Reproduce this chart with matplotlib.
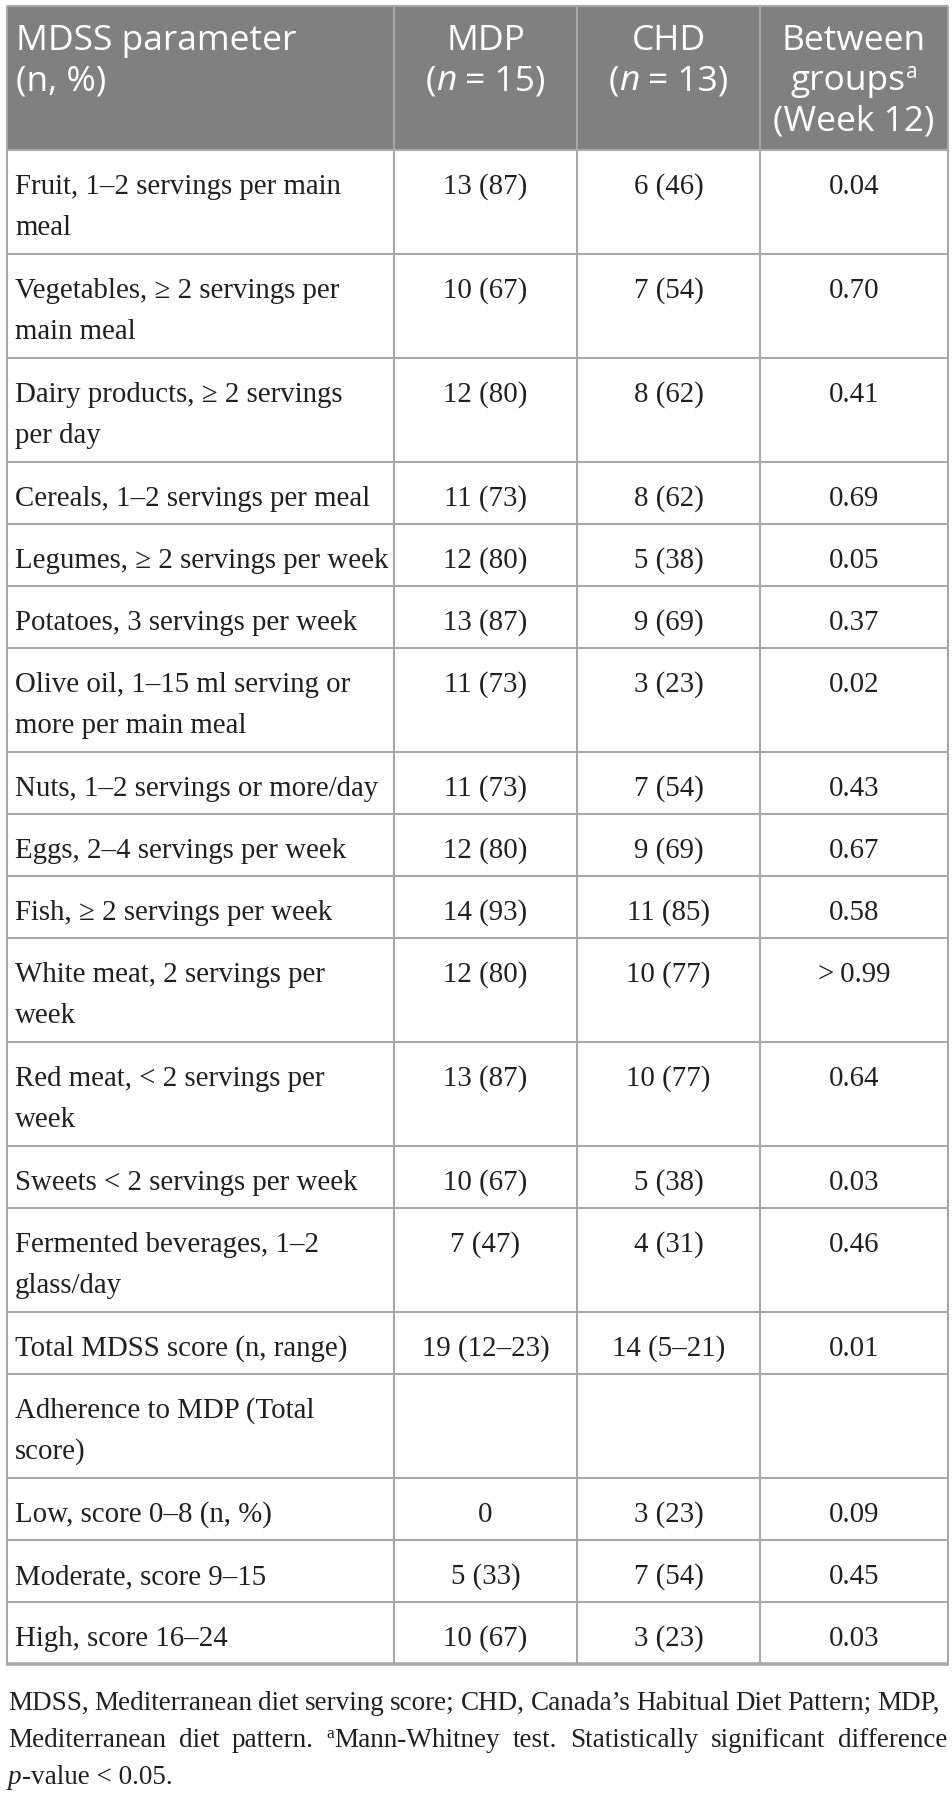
import matplotlib
matplotlib.use("Agg")
import matplotlib.pyplot as plt
from matplotlib.patches import Rectangle

# 표 데이터
params = [
    "Fruit, 1–2 servings per main\nmeal",
    "Vegetables, ≥ 2 servings per\nmain meal",
    "Dairy products, ≥ 2 servings\nper day",
    "Cereals, 1–2 servings per meal",
    "Legumes, ≥ 2 servings per week",
    "Potatoes, 3 servings per week",
    "Olive oil, 1–15 ml serving or\nmore per main meal",
    "Nuts, 1–2 servings or more/day",
    "Eggs, 2–4 servings per week",
    "Fish, ≥ 2 servings per week",
    "White meat, 2 servings per\nweek",
    "Red meat, < 2 servings per\nweek",
    "Sweets < 2 servings per week",
    "Fermented beverages, 1–2\nglass/day",
    "Total MDSS score (n, range)",
    "Adherence to MDP (Total\nscore)",
    "Low, score 0–8 (n, %)",
    "Moderate, score 9–15",
    "High, score 16–24",
]
mdp = ["13 (87)", "10 (67)", "12 (80)", "11 (73)", "12 (80)", "13 (87)", "11 (73)",
       "11 (73)", "12 (80)", "14 (93)", "12 (80)", "13 (87)", "10 (67)", "7 (47)",
       "19 (12–23)", "", "0", "5 (33)", "10 (67)"]
chd = ["6 (46)", "7 (54)", "8 (62)", "8 (62)", "5 (38)", "9 (69)", "3 (23)",
       "7 (54)", "9 (69)", "11 (85)", "10 (77)", "10 (77)", "5 (38)", "4 (31)",
       "14 (5–21)", "", "3 (23)", "7 (54)", "3 (23)"]
pvals = ["0.04", "0.70", "0.41", "0.69", "0.05", "0.37", "0.02", "0.43", "0.67",
         "0.58", ">\u20090.99", "0.64", "0.03", "0.46", "0.01", "", "0.09", "0.45", "0.03"]

note_line1 = "MDSS, Mediterranean diet serving score; CHD, Canada’s Habitual Diet Pattern; MDP,"
note_line2 = "Mediterranean diet pattern. aMann-Whitney test. Statistically significant difference"

# 기본 설정
W, H = 953, 1797
fig = plt.figure(figsize=(W / 100, H / 100), dpi=100)
ax = fig.add_axes([0, 0, 1, 1])
ax.set_xlim(0, W)
ax.set_ylim(H, 0)
ax.axis("off")
renderer = fig.canvas.get_renderer()

HEAD = dict(family=["Open Sans", "DejaVu Sans"], size=25.5, color="white")
HEAD_IT = dict(HEAD, style="italic")
HEAD_SUP = dict(HEAD, size=15)
BODY = dict(family=["Liberation Serif", "DejaVu Serif"], size=20.8, color="#231f20")
NOTE = dict(family=["Liberation Serif", "DejaVu Serif"], size=19.5, color="#231f20")
NOTE_IT = dict(NOTE, style="italic")
NOTE_SUP = dict(NOTE, size=12.5)

header_color = "#808080"
line_color = "#a8a8a8"

x_cols = [7, 394, 577, 760, 948]
top = 6
header_h = 144
line_h = 41
pad = 44


def text_width(s, kw):
    t = ax.text(0, 0, s, **kw)
    w = t.get_window_extent(renderer).width
    t.remove()
    return w


def space_width(kw):
    return text_width("n n", kw) - text_width("nn", kw)


def run_width(runs):
    return sum(space_width(kw) if s == " " else text_width(s, kw) for s, kw, rise in runs)


def draw_runs(x, y, runs, ha="left"):
    total = run_width(runs)
    if ha == "center":
        x -= total / 2
    for s, kw, rise in runs:
        if s == " ":
            x += space_width(kw)
            continue
        ax.text(x, y - rise, s, ha="left", va="baseline", **kw)
        x += text_width(s, kw)
    return x


def draw_justified(x0, x1, y, words):
    widths = [run_width(w) for w in words]
    gap = (x1 - x0 - sum(widths)) / (len(words) - 1)
    gap = max(gap, 0.6 * space_width(NOTE))
    x = x0
    for w, wd in zip(words, widths):
        draw_runs(x, y, w)
        x += wd + gap


# 헤더
header_bottom = top + header_h
ax.add_patch(Rectangle((x_cols[0], top), x_cols[-1] - x_cols[0], header_h,
                       facecolor=header_color, edgecolor="none"))
centers = [(x_cols[i] + x_cols[i + 1]) / 2 for i in range(4)]
hb = [top + 44, top + 84, top + 124]
draw_runs(16, hb[0], [("MDSS parameter", HEAD, 0)])
draw_runs(16, hb[1], [("(n, %)", HEAD, 0)])
draw_runs(centers[1], hb[0], [("MDP", HEAD, 0)], ha="center")
draw_runs(centers[1], hb[1], [("(", HEAD, 0), ("n", HEAD_IT, 0), (" ", HEAD, 0),
                              ("= 15)", HEAD, 0)], ha="center")
draw_runs(centers[2], hb[0], [("CHD", HEAD, 0)], ha="center")
draw_runs(centers[2], hb[1], [("(", HEAD, 0), ("n", HEAD_IT, 0), (" ", HEAD, 0),
                              ("= 13)", HEAD, 0)], ha="center")
draw_runs(centers[3], hb[0], [("Between", HEAD, 0)], ha="center")
draw_runs(centers[3], hb[1], [("groups", HEAD, 0), ("a", HEAD_SUP, 12)], ha="center")
draw_runs(centers[3], hb[2], [("(Week 12)", HEAD, 0)], ha="center")

# 본문 행
y = header_bottom
row_lines = [y]
for label, a, b, p in zip(params, mdp, chd, pvals):
    lines = label.split("\n")
    h = 62 + 42 * (len(lines) - 1)
    for k, ln in enumerate(lines):
        draw_runs(15, y + pad + k * line_h, [(ln, BODY, 0)])
    for c, val in zip(centers[1:], [a, b, p]):
        if val:
            draw_runs(c, y + pad, [(val, BODY, 0)], ha="center")
    y += h
    row_lines.append(y)
table_bottom = y

# 선
ax.hlines(row_lines[:-1], x_cols[0], x_cols[-1], color=line_color, lw=1.5)
ax.vlines(x_cols, top, table_bottom, color=line_color, lw=1.5)
ax.hlines([top], x_cols[0], x_cols[-1], color=line_color, lw=1.5)
ax.hlines([table_bottom], x_cols[0] - 1, x_cols[-1] + 1, color=line_color, lw=2.6)

# 각주
fb = table_bottom + 46
words1 = [[(w, NOTE, 0)] for w in note_line1.split(" ")]
draw_justified(8, 940, fb, words1)
words2 = []
for w in note_line2.split(" "):
    if w == "aMann-Whitney":
        words2.append([("a", NOTE_SUP, 9), ("Mann-Whitney", NOTE, 0)])
    else:
        words2.append([(w, NOTE, 0)])
draw_justified(8, 947, fb + 37, words2)
draw_runs(8, fb + 74, [("p", NOTE_IT, 0), ("-value < 0.05.", NOTE, 0)])

fig.savefig("out.png", dpi=100, facecolor="white")
